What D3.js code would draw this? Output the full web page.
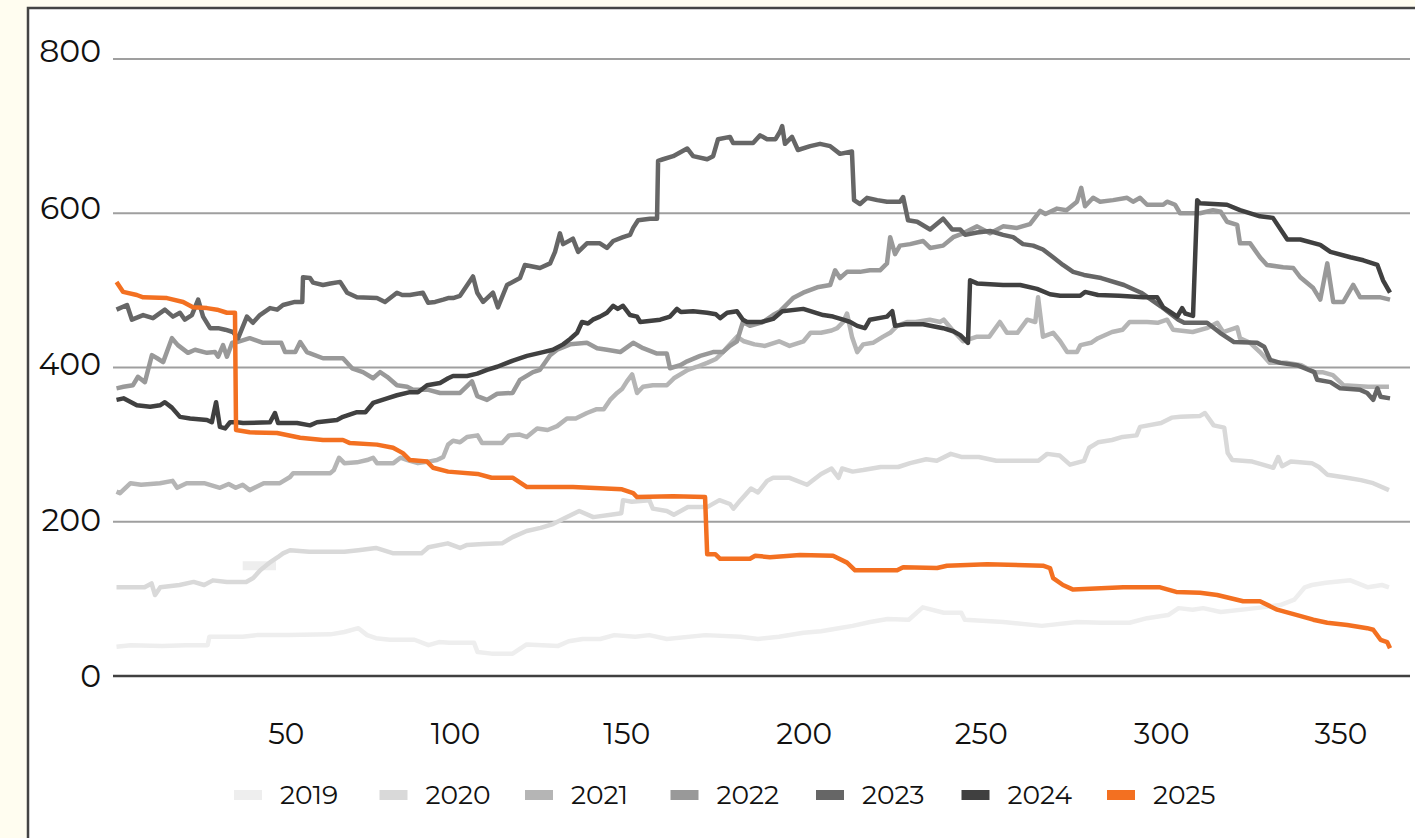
<!DOCTYPE html>
<html>
<head>
<meta charset="utf-8">
<script src="https://cdnjs.cloudflare.com/ajax/libs/d3/7.8.5/d3.min.js"></script>
<style>
  html, body { margin: 0; padding: 0; background: #fffdf0; }
  svg { display: block; }
  text { font-family: Montserrat, Inter, "Noto Sans", sans-serif; fill: #111; }
</style>
</head>
<body>
<div id="chart"></div>
<script>
// series: [day of year, value]
var years = ["2019", "2020", "2021", "2022", "2023", "2024", "2025"];
var colors = ["#eeeeee", "#d9d9d9", "#b5b5b5", "#999999", "#666666", "#404040", "#f37021"];
var yTicks = [0, 200, 400, 600, 800];
var xTicks = [50, 100, 150, 200, 250, 300, 350];
var xLabelNudge = [-2, -8, -12, -10, -8, -3, 1]; // labels in the original sit a bit off the ticks

var d2019 = [[1,38],[5,40],[14,39],[21,40],[27,40],[27.5,51],[37,51],[41,53],[50,53],[62,54],[66,57],[70,62],[72.5,53],[75,49],[79,47],[86,47],[90,40],[93,44],[96,43],[103,43],[104,31],[108,29],[114,29],[118,41],[127,39],[130,45],[134,48],[139,48],[143,53],[149,51],[153,53],[158,48],[169,53],[179,51],[184,48],[190,51],[197,56],[202,58],[207,62],[211,65],[216,70],[221,74],[227,73],[231,89],[237,82],[242,82],[243,73],[254,70],[265,65],[275,70],[282,69],[290,69],[295,75],[301,79],[304,88],[308,86],[311,88],[316,83],[326,88],[333,92],[337,99],[340,115],[342,118],[346,121],[353,124],[358,115],[362,118],[364,115]];
var d2019b = [[37,143],[46.5,143]];

var d2020 = [[1,115],[9,115],[11,120],[12,105],[13.5,115],[19,118],[23,122],[26,118],[28.5,124],[32.5,122],[38,122],[40,127],[42,137],[45,148],[47,154],[48.5,159],[50.5,163],[56,161],[66,161],[70,163],[75,166],[80,159],[88,159],[90,167],[95.5,172],[99,166],[101,170],[105.6,171],[111,172],[114,180],[118,188],[122,192],[125.5,197],[128.5,204],[133,214],[137,206],[142,209],[145,211],[145.5,228],[148,226],[153,228],[154,217],[158,214],[160,209],[164,219],[169.5,219],[173,228],[176,223],[177,217],[179,228],[182,243],[184,238],[186.6,253],[188.3,257],[193,257],[198,248],[202,262],[205,269],[207,257],[208,269],[211,265],[214,267],[219,271],[224,271],[227.4,276],[232,281],[235,279],[239,288],[242,284],[247,284],[252,279],[258,279],[264,279],[266.5,288],[270,286],[273,274],[277,279],[278.5,296],[281,303],[285,306],[288,310],[292,312],[293,323],[299,328],[302,335],[304.5,336],[310,337],[311.5,341],[314,325],[317,322],[318,289],[319.3,280],[325,278],[328,274],[331,270],[332.4,284],[333.5,272],[336,278],[342,276],[344,271],[346.4,261],[352,257],[356,254],[359.5,250],[364,241]];

var d2021 = [[1,239],[2,237],[5,250],[8,248],[13.4,250],[17,253],[18.3,244],[21,250],[26,250],[30.5,244],[33,249],[35,244],[37,248],[39,241],[43,250],[47.6,250],[50.5,258],[51.4,263],[56,263],[62,263],[63,267],[64.5,283],[66,276],[69.6,277],[72.5,280],[74.2,283],[75.3,276],[80,276],[82,283],[84,280],[87,276],[90,278],[92.4,280],[94.2,284],[95.6,300],[97,305],[99,303],[101,310],[104,312],[105.3,302],[111,302],[113,312],[116,313],[118,310],[121,321],[124,319],[126.7,324],[129.5,334],[132,334],[135.2,341],[138,346],[140,346],[141.8,358],[143.8,367],[145.2,372],[146.6,382],[148.1,391],[149.5,367],[151.2,375],[154,377],[158,377],[160,386],[164,397],[166.6,401],[169.5,406],[172,411],[174,420],[176,430],[178,440],[180,434],[183,430],[186,428],[190,434],[193,428],[197,434],[199,445],[202,445],[205,448],[206.6,451],[208.3,459],[209.4,470],[210.8,440],[212.3,420],[214,430],[216.8,432],[219.7,440],[221.7,445],[223.7,454],[226.5,459],[229,459],[233,462],[236,459],[237,462],[239.4,449],[242.5,434],[246.5,440],[250,440],[253,459],[255,445],[258,445],[260.8,462],[263.1,459],[263.9,491],[265.3,440],[268.2,445],[270.2,434],[272.2,420],[275,420],[276,429],[279,432],[281,438],[285,446],[288,449],[290,459],[295,459],[298,458],[300.7,462],[302.4,449],[308,446],[312,451],[315,458],[316.7,446],[320.7,452],[321.5,438],[324.4,432],[327.2,420],[330,406],[335,406],[339,403],[342.7,394],[345,394],[348,390],[351,377],[358,375],[364,375]];

var d2022 = [[1,373],[3,375],[5.7,377],[7.1,388],[9.1,381],[11.1,416],[12.6,412],[14.3,407],[16.8,438],[18.5,429],[21.4,419],[23.4,423],[26.8,419],[29.1,420],[30,414],[31.4,429],[32.5,414],[34,432],[35.4,433],[39,438],[42.8,432],[48,432],[49.1,420],[52,420],[53.4,433],[55.3,420],[59.9,412],[65.6,412],[68.2,399],[71.3,394],[74.2,386],[76.2,394],[78.2,388],[81,377],[83.9,375],[85.6,371],[90,371],[93.3,367],[99,367],[102.4,382],[103.9,363],[106.7,358],[109.6,366],[114,367],[116.1,384],[119.8,394],[121.8,397],[124.7,416],[126.7,423],[130.4,430],[135.2,432],[138.1,425],[140.9,423],[144.7,420],[148.4,432],[151.2,425],[155.2,418],[158,418],[158.9,399],[161.8,403],[163.8,408],[167.5,415],[171.2,420],[174,420],[176,428],[178,434],[179.7,459],[181.7,454],[185.4,459],[188.3,468],[190.3,473],[194,490],[196.9,497],[200.9,504],[204.6,507],[206,526],[207.4,516],[209.4,524],[213.1,524],[215.9,526],[218.8,526],[220.8,535],[221.7,569],[223.1,547],[224.5,558],[227.4,560],[231.1,564],[233.1,555],[236.8,558],[239.7,569],[242.5,574],[246.5,583],[250.2,574],[253.9,583],[257.9,581],[261.6,586],[264.5,603],[266,599],[269.3,606],[272,604],[275,615],[276.2,633],[277.3,609],[279.6,620],[281.6,615],[285.3,617],[289.3,620],[291,615],[293,620],[295,611],[299.6,611],[300.7,615],[303,611],[304.4,600],[310.1,600],[313.8,604],[316,602],[317.8,589],[320.7,585],[321.5,561],[324.4,561],[327.2,543],[329.2,533],[333.8,530],[336.7,529],[338.7,517],[342.4,503],[344.4,488],[346.4,535],[348.1,485],[351,485],[353.8,507],[355.8,491],[361.6,491],[364.3,488]];

var d2023 = [[1,475],[4,481],[5.4,462],[8.6,468],[11.4,464],[14.8,475],[17.1,466],[19.1,471],[20.5,462],[22.5,468],[24.3,488],[25.7,466],[27.7,451],[30,451],[32,449],[34.2,446],[35.7,438],[38.2,466],[39.9,458],[41.9,468],[44.8,477],[46.8,475],[48.5,481],[51.9,485],[54,485],[54.2,517],[56.2,516],[57.1,510],[59.9,507],[62,509],[64.8,511],[66.8,497],[69.6,491],[75.3,490],[77.6,485],[81,497],[82.5,494],[84.7,494],[88.4,497],[89.9,484],[91.9,485],[94.2,488],[95.6,490],[97,490],[99,493],[102.7,518],[103.9,497],[105.6,485],[108.4,497],[109.8,478],[112.4,507],[116.1,516],[117.5,533],[121.8,529],[124.7,535],[126.1,550],[127.5,574],[128.4,560],[131.2,567],[132.7,550],[135.2,561],[138.9,561],[140.9,555],[142.7,564],[145.5,569],[147.5,572],[148.4,581],[149.8,591],[153.2,593],[155.2,593],[155.5,668],[156.9,670],[159.8,674],[163.8,684],[165.5,674],[169.5,670],[171.2,674],[172.6,696],[176,699],[176.9,691],[182.6,691],[184.6,701],[186.6,696],[189,696],[190.3,706],[190.9,713],[191.7,690],[193.7,699],[195.4,682],[198.9,687],[201.7,690],[204.6,687],[207.4,677],[210.8,680],[211.4,617],[213.1,612],[215.1,620],[218,617],[220.8,615],[224.5,615],[225.4,621],[226.8,591],[229.4,589],[233.1,579],[236.8,593],[239.4,579],[241.7,579],[243.1,572],[246.5,575],[250.2,577],[253.9,572],[256.8,569],[259.6,560],[262.5,558],[265.3,553],[268.2,543],[271,533],[273.9,524],[277,520],[281.9,516],[288.4,507],[293.3,497],[299,479],[303.9,462],[305.6,458],[312.1,458],[315.8,445],[319.8,433],[326.4,432],[328.4,427],[330.1,410],[333,406],[337.8,403],[342.7,394],[343.5,384],[347.3,381],[350.1,373],[355.8,371],[357.8,367],[359.5,358],[360.7,373],[361.6,362],[364.3,360]];

var d2024 = [[1,358],[3,360],[6.8,351],[10.6,349],[13.4,351],[14.8,355],[16.8,348],[19.1,336],[22,334],[26.8,332],[28.2,329],[29.4,355],[30.5,323],[32,321],[33.4,329],[35.4,329],[37.1,328],[44.8,329],[46.2,341],[47.1,328],[52.5,328],[56.2,325],[58.2,329],[63.9,332],[65.6,336],[69.6,342],[72,342],[74.2,354],[78.2,360],[81,364],[84.7,368],[87,368],[89.6,377],[93.3,380],[95.6,386],[97,389],[101,389],[103.9,392],[106.7,397],[109.6,401],[114.1,409],[118.1,415],[122.7,420],[125.5,423],[128.4,430],[130.4,437],[132.4,445],[133.8,459],[135.5,457],[136.9,462],[138.9,466],[140.9,471],[142.7,480],[144,476],[145.5,480],[147.5,468],[149.5,466],[150.4,459],[156.1,462],[158.9,466],[160.9,476],[162,472],[165.5,473],[169.5,471],[172,469],[173.2,464],[175.2,471],[178,473],[179.7,462],[180.9,459],[185,459],[188.3,463],[190.9,473],[196.9,476],[202.6,468],[205.4,466],[208.3,462],[210.3,459],[212.3,454],[214.5,451],[215.9,462],[220.8,466],[222.3,473],[223.1,454],[226,456],[231.1,456],[236.8,451],[239.7,447],[241.7,442],[243.9,432],[244.5,513],[246.5,509],[253.9,507],[258.8,507],[263.6,502],[267.3,495],[270.2,493],[275.9,493],[277.3,498],[281,494],[287,493],[293.9,491],[297.9,491],[299.6,478],[301.6,472],[303.6,466],[305,477],[305.9,470],[308.1,467],[309.3,617],[310.1,613],[317.8,611],[321.5,604],[327.2,596],[330.9,594],[335,566],[338.7,566],[344.4,559],[347.3,550],[353,543],[356.7,539],[360.7,533],[362.3,513],[364.3,497]];

var d2025 = [[1,511],[2.9,498],[6.8,494],[8.6,491],[15.4,490],[20,485],[22.8,478],[26.8,477],[29.7,475],[32.5,471],[34.8,471],[35.1,319],[39,316],[46.8,315],[53.4,309],[59.9,306],[65.6,306],[67.6,302],[75.3,300],[79.9,296],[82.7,289],[84.7,280],[89.6,278],[91.3,270],[95.6,265],[104,262],[108,257],[114.1,257],[118.1,245],[131.2,245],[145.2,242],[148.4,237],[149.5,232],[159.8,233],[168.9,232],[169.5,158],[171.8,158],[173.2,152],[181.7,152],[183.2,156],[187.4,154],[196,157],[205.4,156],[209.4,147],[211.7,137],[223.7,137],[225.4,141],[235.1,140],[237.9,143],[249.4,145],[265.3,143],[267.3,140],[268.2,127],[271,118],[273.9,112],[278.7,113],[288.2,115],[298.7,115],[303.3,109],[310.1,108],[315,105],[322.4,97],[327.2,97],[332.1,86],[337.8,79],[342.4,73],[346.4,69],[352.1,66],[357.8,62],[359.5,60],[361.6,47],[363.5,44],[364.3,36]];

var series = [d2019, d2020, d2021, d2022, d2023, d2024, d2025];

var W = 1415, H = 838;
var svg = d3.select("#chart").append("svg")
	.attr("width", W)
	.attr("height", H);

// frame: cream outside, white panel with dark left/top border
svg.append("rect").attr("width", W).attr("height", H).attr("fill", "#fffdf0");
svg.append("rect")
	.attr("x", 28).attr("y", 8)
	.attr("width", W - 28).attr("height", H - 8)
	.attr("fill", "#ffffff");
svg.append("path")
	.attr("d", "M28," + H + "V8H" + W)
	.attr("fill", "none")
	.attr("stroke", "#444")
	.attr("stroke-width", 2.5);

var x = d3.scaleLinear().domain([0, 370]).range([113, 1410]);
var y = d3.scaleLinear().domain([0, 800]).range([676, 59]);

// gridlines
svg.append("g").selectAll("line")
	.data(yTicks.filter(function(d){ return d > 0; }))
	.enter().append("line")
	.attr("x1", x(0)).attr("x2", x(370))
	.attr("y1", function(d){ return y(d); })
	.attr("y2", function(d){ return y(d); })
	.attr("stroke", "#9f9f9f")
	.attr("stroke-width", 2);

// y labels
svg.append("g").selectAll("text")
	.data(yTicks)
	.enter().append("text")
	.attr("x", 101)
	.attr("y", function(d){ return y(d) - d * 0.0095; })
	.attr("dy", "0.35em")
	.attr("text-anchor", "end")
	.style("font-size", "31.5px")
	.text(function(d){ return d; });

// x labels
svg.append("g").selectAll("text")
	.data(xTicks)
	.enter().append("text")
	.attr("x", function(d, i){ return x(d) + xLabelNudge[i]; })
	.attr("y", 734)
	.attr("dy", "0.35em")
	.attr("text-anchor", "middle")
	.style("font-size", "29.5px")
	.text(function(d){ return d; });

var line = d3.line()
	.x(function(d){ return x(d[0]); })
	.y(function(d){ return y(d[1]); });

svg.append("path")
	.attr("d", line(d2019b))
	.attr("fill", "none")
	.attr("stroke", colors[0])
	.attr("stroke-width", 9);

svg.append("g").selectAll("path")
	.data(series)
	.enter().append("path")
	.attr("d", line)
	.attr("fill", "none")
	.attr("stroke", function(d, i){ return colors[i]; })
	.attr("stroke-width", 4.5)
	.attr("stroke-linejoin", "round");

// baseline
svg.append("line")
	.attr("x1", x(0)).attr("x2", x(370))
	.attr("y1", y(0)).attr("y2", y(0))
	.attr("stroke", "#404040")
	.attr("stroke-width", 2.5);

// legend
var legend = svg.append("g").selectAll("g")
	.data(years)
	.enter().append("g")
	.attr("transform", function(d, i){ return "translate(" + (234 + i * 145.5) + ",795)"; });
legend.append("rect")
	.attr("x", 0).attr("y", -5)
	.attr("width", 28).attr("height", 10)
	.attr("fill", function(d, i){ return colors[i]; });
legend.append("text")
	.attr("x", 46)
	.attr("dy", "0.35em")
	.style("font-size", "26.5px")
	.text(function(d){ return d; });
</script>
</body>
</html>
